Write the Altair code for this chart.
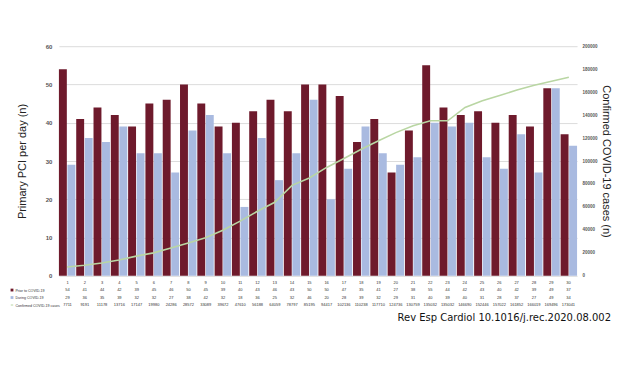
import altair as alt
import pandas as pd

days = list(range(1, 31))
prior = [54, 41, 44, 42, 39, 45, 46, 50, 45, 39, 40, 43, 46, 43, 50, 50, 47, 35, 41, 27,
         38, 55, 44, 42, 43, 40, 42, 39, 49, 37]
during = [29, 36, 35, 39, 32, 32, 27, 38, 42, 32, 18, 36, 25, 32, 46, 20, 28, 39, 32, 29,
          31, 40, 39, 40, 31, 28, 37, 27, 49, 34]
cases = [7711, 9191, 11178, 13716, 17147, 19980, 24286, 28572, 33089, 39672, 47610, 56188,
         64059, 78797, 85195, 94417, 102136, 110238, 117710, 124736, 130759, 135032, 135032,
         146690, 152446, 157022, 161852, 166019, 169496, 173041]

S_PRIOR = "Prior to COVID-19"
S_DURING = "During COVID-19"
S_CASES = "Confirmed COVID-19 cases"
RED = "#6E1A2C"
BLUE = "#A9BAE0"
GREEN = "#B9D6A3"

W = 519
H = 230

bars_df = pd.DataFrame(
    [{"day": d, "series": S_PRIOR, "value": v} for d, v in zip(days, prior)]
    + [{"day": d, "series": S_DURING, "value": v} for d, v in zip(days, during)]
)
line_df = pd.DataFrame({"day": days, "cases": cases})

xscale = alt.Scale(domain=days, paddingInner=0.05, paddingOuter=0.0)

bars = alt.Chart(bars_df).mark_bar().encode(
    x=alt.X("day:O", scale=xscale, axis=None),
    xOffset=alt.XOffset("series:N", scale=alt.Scale(domain=[S_PRIOR, S_DURING], paddingInner=0.07)),
    y=alt.Y("value:Q", scale=alt.Scale(domain=[0, 60]),
            axis=alt.Axis(values=[0, 10, 20, 30, 40, 50, 60], title="Primary PCI per day (n)",
                          grid=True, gridColor="#dcdcdc", domain=False, ticks=False,
                          labelFontSize=6, labelFontWeight="bold", labelColor="#555",
                          labelPadding=7, titleFontSize=11, titleFontWeight="normal",
                          titleColor="#222", titleFont="Liberation Sans", titlePadding=18)),
    color=alt.Color("series:N", scale=alt.Scale(domain=[S_PRIOR, S_DURING], range=[RED, BLUE]),
                    legend=None),
)

line = alt.Chart(line_df).mark_line(color=GREEN, strokeWidth=1.6).encode(
    x=alt.X("day:O", scale=xscale, axis=None),
    y=alt.Y("cases:Q", scale=alt.Scale(domain=[0, 200000]),
            axis=alt.Axis(orient="right", values=list(range(0, 200001, 20000)), format="d",
                          title="Confirmed COVID-19 cases (n)", grid=False, domain=False,
                          ticks=False, labelFontSize=4.5, labelFontWeight="bold",
                          labelColor="#555", labelPadding=5, titleFontSize=11,
                          titleFontWeight="normal", titleColor="#222",
                          titleFont="Liberation Sans", titlePadding=3)),
)

main = alt.layer(bars, line).resolve_scale(y="independent").properties(width=W, height=H)

# table below
rows = ["Day", S_PRIOR, S_DURING, S_CASES]
tab_records = []
for i, d in enumerate(days):
    tab_records.append({"day": d, "row": "Day", "txt": str(d)})
    tab_records.append({"day": d, "row": S_PRIOR, "txt": str(prior[i])})
    tab_records.append({"day": d, "row": S_DURING, "txt": str(during[i])})
    tab_records.append({"day": d, "row": S_CASES, "txt": str(cases[i])})
tab_df = pd.DataFrame(tab_records)

yrow = alt.Y("row:N", scale=alt.Scale(domain=rows, paddingInner=0, paddingOuter=0),
             axis=alt.Axis(title=None, domain=False, ticks=False, labelFontSize=3.6,
                           labelColor="#333", labelAlign="left", labelPadding=44,
                           labelExpr="datum.value == 'Day' ? '' : datum.value"))

cells = alt.Chart(tab_df).mark_text(fontSize=4, color="#333").encode(
    x=alt.X("day:O", scale=xscale, axis=None),
    y=yrow,
    text="txt:N",
)

sym_df = pd.DataFrame({"row": [S_PRIOR, S_DURING, S_CASES], "col": [RED, BLUE, GREEN]})
syms_sq = alt.Chart(sym_df.iloc[:2]).mark_point(shape="square", filled=True, size=8, opacity=1).encode(
    x=alt.value(-47), y=yrow, color=alt.Color("col:N", scale=None))
syms_ln = alt.Chart(sym_df.iloc[2:]).mark_point(shape="M-1,0L1,0", filled=False, size=6,
                                               strokeWidth=1, opacity=1).encode(
    x=alt.value(-47), y=yrow, color=alt.Color("col:N", scale=None))

table = alt.layer(cells, syms_sq, syms_ln).properties(width=W, height=30)

chart = alt.vconcat(main, table, spacing=0).properties(
    padding={"left": 0, "top": 35, "right": 0, "bottom": 5},
    title=alt.TitleParams("Rev Esp Cardiol 10.1016/j.rec.2020.08.002", orient="bottom",
                          anchor="end", fontSize=10, font="DejaVu Sans", fontWeight="normal",
                          color="#111", offset=4),
).configure_view(stroke=None).configure_axis(labelFont="Liberation Sans")

chart.save("out.html", embed_options={"renderer": "svg", "actions": False})
